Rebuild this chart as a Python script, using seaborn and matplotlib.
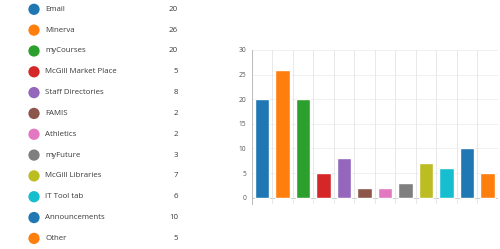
import matplotlib
matplotlib.use("Agg")
import matplotlib.pyplot as plt
import seaborn as sns
import pandas as pd
import numpy as np

categories = ["Email", "Minerva", "myCourses", "McGill Market Place", "Staff Directories",
              "FAMIS", "Athletics", "myFuture", "McGill Libraries", "IT Tool tab",
              "Announcements", "Other"]
values = [20, 26, 20, 5, 8, 2, 2, 3, 7, 6, 10, 5]
colors = ["#1f77b4", "#ff7f0e", "#2ca02c", "#d62728", "#9467bd", "#8c564b",
          "#e377c2", "#7f7f7f", "#bcbd22", "#17becf", "#1f77b4", "#ff7f0e"]
yticks = [0, 5, 10, 15, 20, 25, 30]

sns.set_theme(style="white")
plt.rcParams['font.family'] = ['Open Sans', 'DejaVu Sans']

df = pd.DataFrame({"cat": categories, "val": values})

fig = plt.figure(figsize=(5.0, 2.49), dpi=100)

# Legend-like list on the left
lax = fig.add_axes([0, 0, 0.44, 1])
lax.set_xlim(0, 220)
lax.set_ylim(11.51, -0.447)
lax.axis("off")
idx = np.arange(len(categories))
sns.scatterplot(x=[34] * len(categories), y=idx, hue=categories, palette=colors,
                s=66, linewidth=0, legend=False, ax=lax)
for i, (c, v) in enumerate(zip(categories, values)):
    lax.text(45, i, c, fontsize=5.7, color="#3a3a3a", va="center", ha="left")
    lax.text(178, i, str(v), fontsize=5.7, color="#3a3a3a", va="center", ha="right")

# Bar chart
ax = fig.add_axes([251.7 / 500, 1 - 204 / 249, 246 / 500, (204 - 50) / 249])
sns.barplot(data=df, x="cat", y="val", hue="cat", palette=colors, legend=False,
            width=0.72, ax=ax, saturation=1)
ax.set_xlim(-0.5, len(categories) - 0.5)
ax.set_ylim(-1.28, 30)
ax.set_yticks(yticks)
ax.set_yticklabels([str(t) for t in yticks], fontsize=4.8, color="#555555")
ax.set_xticks([])
ax.set_xticks(np.arange(-0.5, len(categories), 1.0), minor=True)
ax.tick_params(axis="x", which="both", length=0, labelbottom=False)
ax.tick_params(axis="y", length=0, pad=4)
ax.set_xlabel("")
ax.set_ylabel("")
ax.set_axisbelow(True)
ax.grid(axis="x", which="minor", color="#e4e4e4", linewidth=0.6)
for t in yticks[1:]:
    ax.axhline(t, color="#f0f0f0", linewidth=0.7, zorder=0)
ax.axhline(0, color="#c8c8c8", linewidth=0.7, zorder=0.5)
for s in ["top", "right", "bottom"]:
    ax.spines[s].set_visible(False)
ax.spines["left"].set_color("#bbbbbb")
ax.spines["left"].set_linewidth(0.7)

fig.savefig("out.png", dpi=100)
